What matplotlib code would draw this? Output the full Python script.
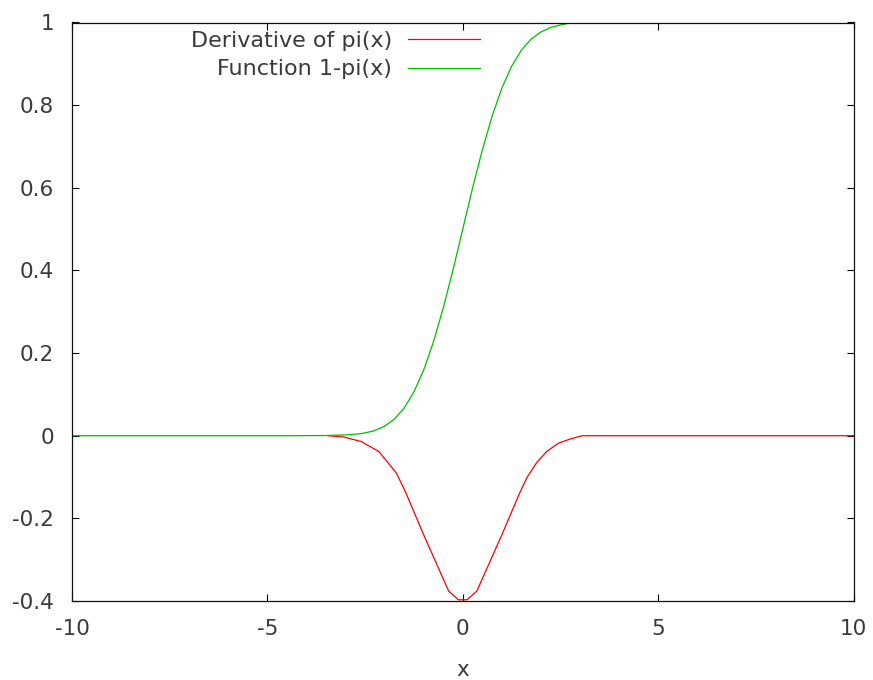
import matplotlib
matplotlib.use("Agg")
import matplotlib.pyplot as plt

# Derivative of pi(x): sampled values
deriv_x = [-3.45, -3.05, -2.6, -2.15, -1.7, -1.47, -1.0, -0.36, -0.11,
           0.11, 0.36, 1.0, 1.45, 1.65, 1.9, 2.15, 2.45, 2.75, 3.05, 10.0]
deriv_y = [0.0, -0.003, -0.014, -0.038, -0.090, -0.135, -0.240, -0.376, -0.397,
           -0.397, -0.376, -0.240, -0.140, -0.100, -0.064, -0.038, -0.018, -0.008, 0.0, 0.0]

# Function 1-pi(x): sampled values
func_x = [-10.0, -4.5, -3.5, -3.0, -2.6, -2.3, -2.0, -1.75, -1.5, -1.25, -1.0,
          -0.75, -0.5, -0.25, 0.0, 0.25, 0.5, 0.75, 1.0, 1.25, 1.5, 1.75, 2.0,
          2.25, 2.5, 2.8]
func_y = [0.0, 0.0, 0.0005, 0.002, 0.005, 0.011, 0.023, 0.040, 0.067, 0.106, 0.159,
          0.227, 0.309, 0.401, 0.500, 0.599, 0.691, 0.773, 0.841, 0.894, 0.933, 0.960,
          0.977, 0.988, 0.994, 1.0]

x_ticks = [-10, -5, 0, 5, 10]
y_ticks = [-0.4, -0.2, 0, 0.2, 0.4, 0.6, 0.8, 1]
y_tick_labels = ["-0.4", "-0.2", "0", "0.2", "0.4", "0.6", "0.8", "1"]

text_color = "#3a3a3a"
plt.rcParams["font.family"] = ["DejaVu Sans"]

fig = plt.figure(figsize=(8.73, 6.8), dpi=100)
ax = fig.add_axes([72 / 873, 1 - 601 / 680, (853.5 - 72) / 873, (601 - 22.5) / 680])

ax.plot(deriv_x, deriv_y, color="#ff0000", lw=0.9, label="Derivative of pi(x)")
ax.plot(func_x, func_y, color="#00c000", lw=0.9, label="Function 1-pi(x)")

ax.set_xlim(-10, 10)
ax.set_ylim(-0.4, 1)
ax.set_xticks(x_ticks)
ax.set_xticklabels([str(t) for t in x_ticks])
ax.set_yticks(y_ticks)
ax.set_yticklabels(y_tick_labels)

ax.tick_params(direction="in", length=5, width=0.8, top=True, right=True,
               labelsize=15.5, labelcolor=text_color)
ax.tick_params(axis="y", pad=13)
ax.tick_params(axis="x", pad=13)
for sp in ax.spines.values():
    sp.set_linewidth(0.9)
    sp.set_color("#111111")

ax.set_xlabel("x", fontsize=15.5, color=text_color, labelpad=15)

leg = ax.legend(loc="upper right", bbox_to_anchor=((480 - 72) / 781.5, 1 - (31 - 22.5) / 578.5),
                frameon=False, markerfirst=False, fontsize=16, handlelength=3.25,
                handletextpad=0.72, labelspacing=0.38, borderpad=0, borderaxespad=0)
for t in leg.get_texts():
    t.set_color(text_color)

fig.savefig("out.png", dpi=100)
